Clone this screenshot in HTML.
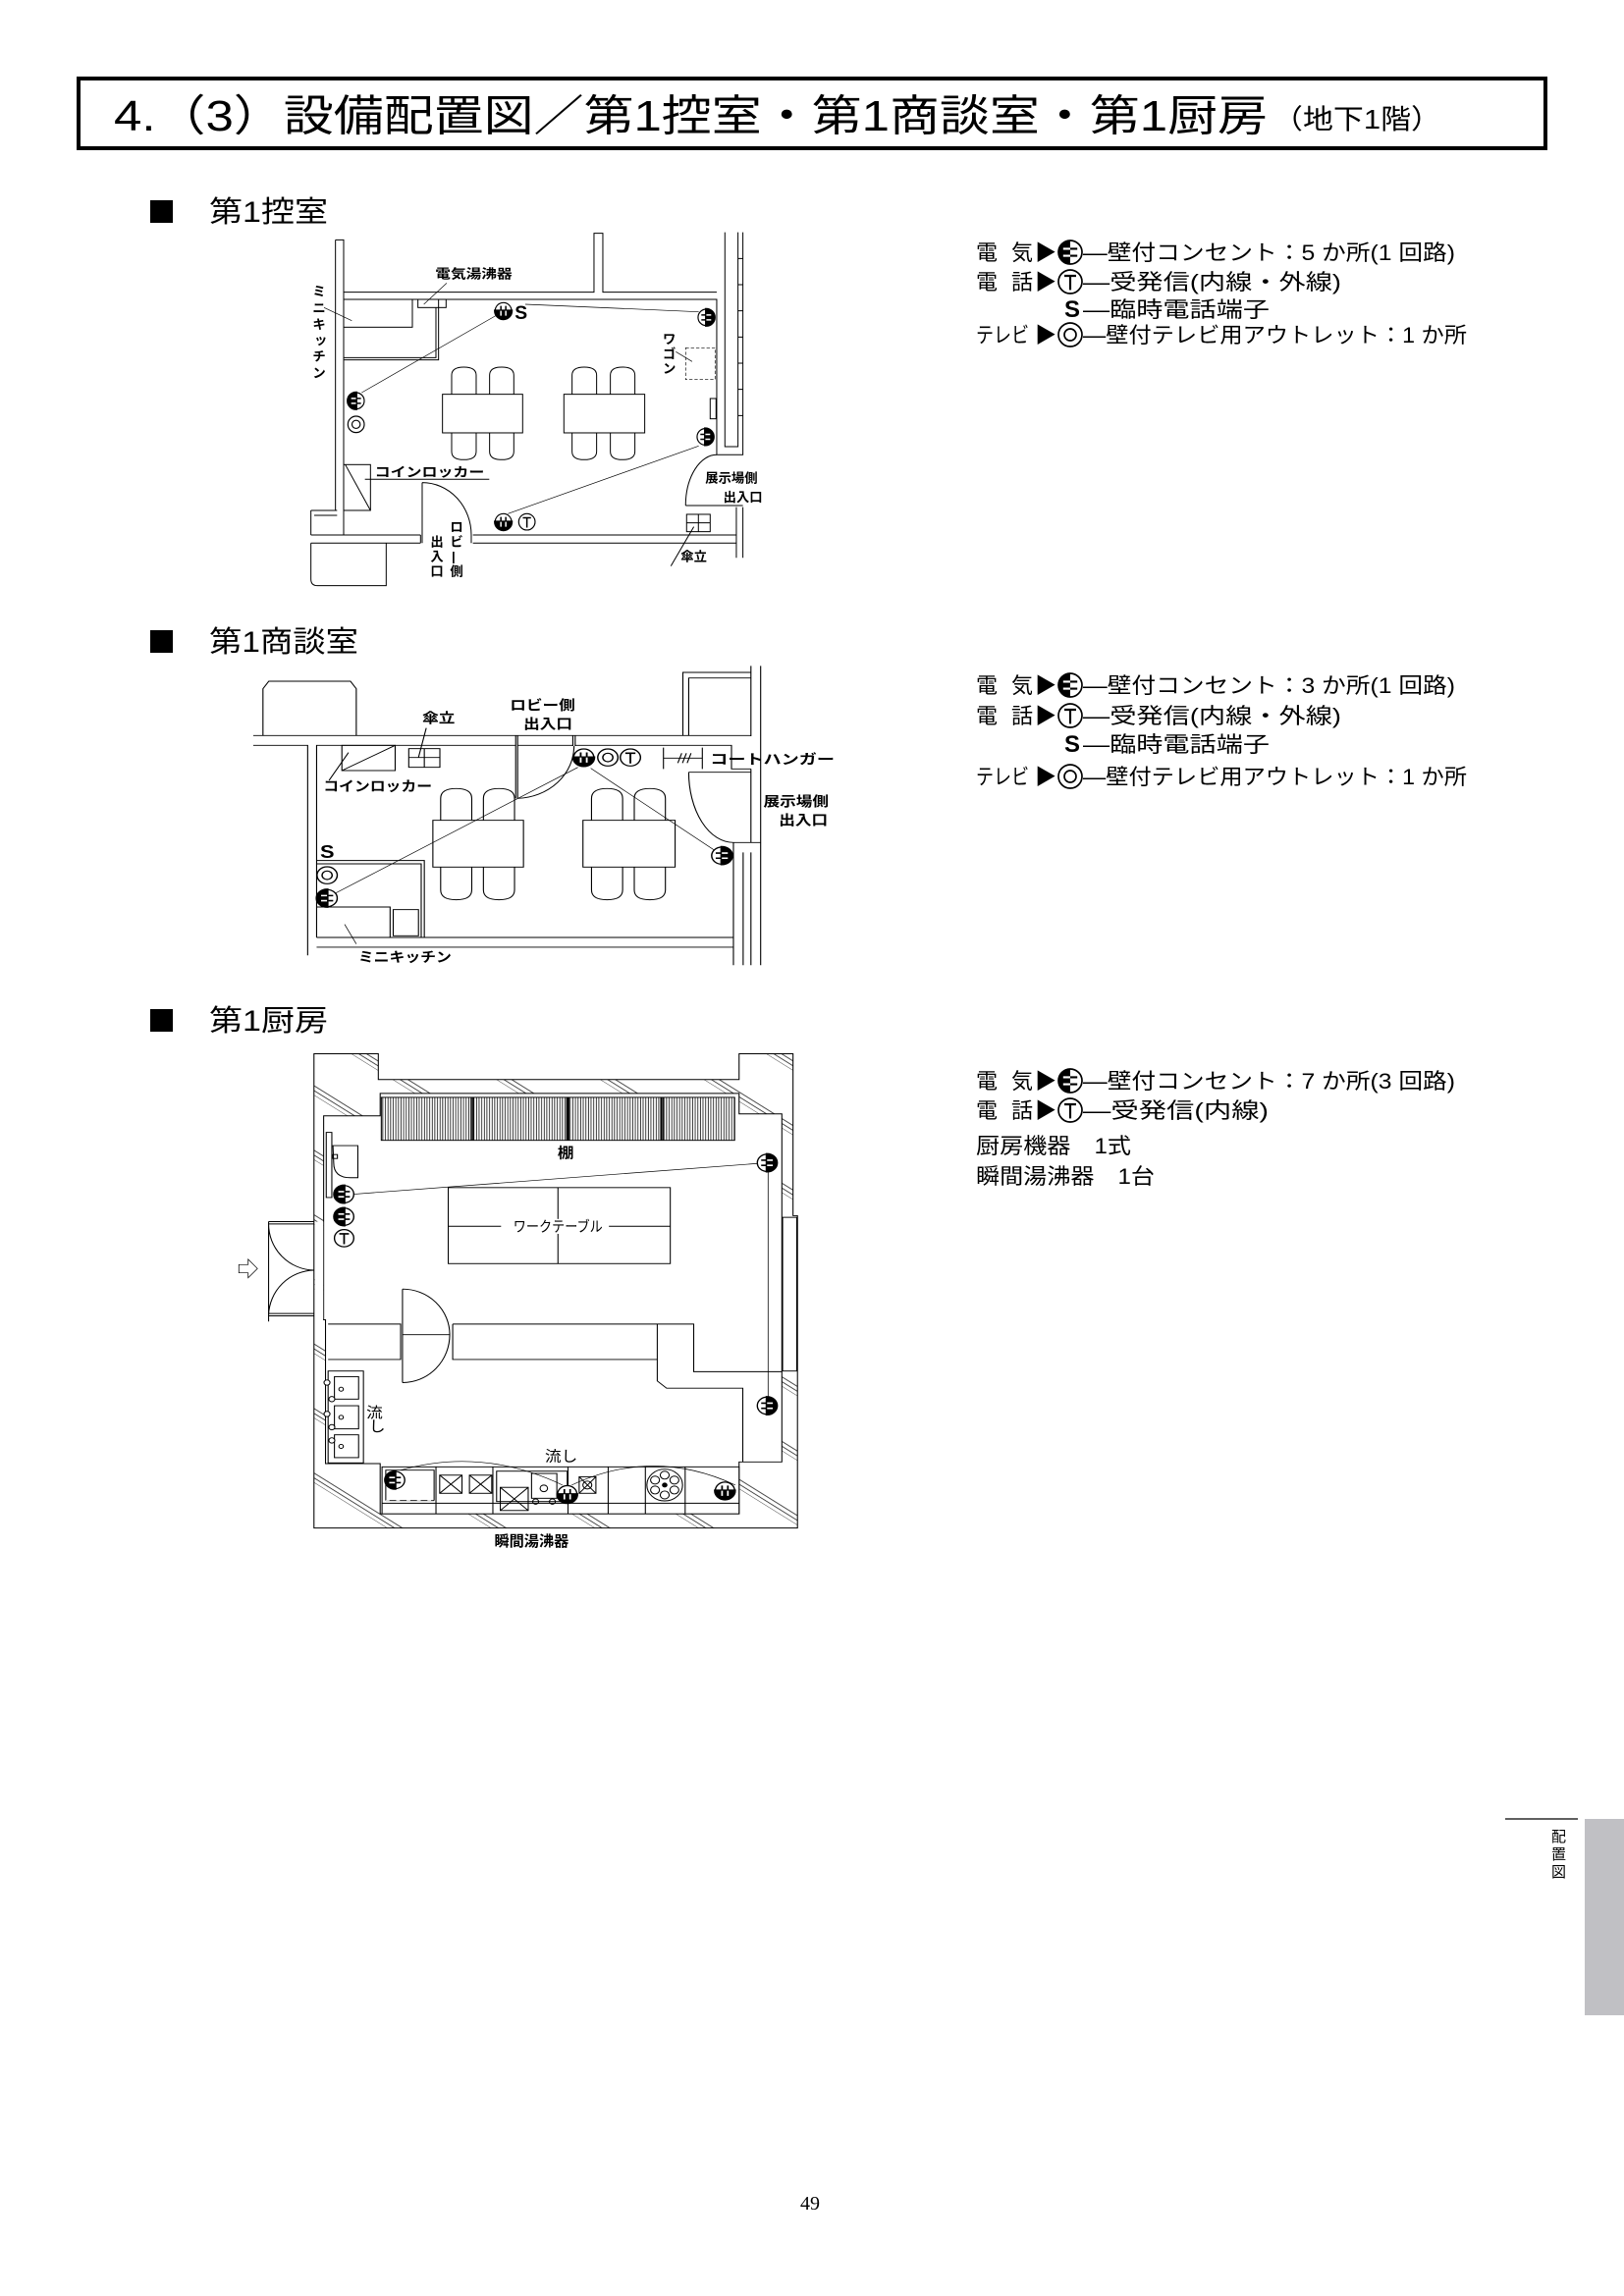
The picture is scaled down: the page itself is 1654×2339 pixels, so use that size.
<!DOCTYPE html>
<html><head><meta charset="utf-8"><style>
html,body{margin:0;padding:0;background:#fff}
svg{display:block}
text{font-family:"Liberation Sans","Noto Sans CJK JP",sans-serif;fill:#000}
</style></head><body>
<svg width="1654" height="2339" viewBox="0 0 1654 2339" xmlns="http://www.w3.org/2000/svg">
<defs>
<g id="eo"><circle r="10" fill="#fff" stroke="#000" stroke-width="1.4"/><path d="M0,-10A10,10 0 0 0 0,10Z" fill="#000"/><path d="M-6,-3H0M-6,3H0" stroke="#fff" stroke-width="1.8"/><path d="M0,-3H6M0,3H6" stroke="#000" stroke-width="1.8"/></g>
<g id="tel"><circle r="10" fill="#fff" stroke="#000" stroke-width="1.4"/><path d="M-10,0A10,10 0 0 0 10,0Z" fill="#000"/><path d="M-3,-6V0M3,-6V0" stroke="#000" stroke-width="1.8"/><path d="M-3,0V6M3,0V6" stroke="#fff" stroke-width="1.8"/></g>
<g id="tv"><circle r="10" fill="#fff" stroke="#000" stroke-width="1.4"/><circle r="5" fill="none" stroke="#000" stroke-width="1.4"/></g>
<g id="tt"><circle r="10" fill="#fff" stroke="#000" stroke-width="1.4"/><path d="M-5,-5H5M0,-5V7" stroke="#000" stroke-width="1.8"/></g>
<pattern id="hatch" patternUnits="userSpaceOnUse" width="160" height="160" patternTransform="rotate(-55)"><line x1="0" y1="0" x2="0" y2="160" stroke="#000" stroke-width="2"/><line x1="12" y1="0" x2="12" y2="160" stroke="#000" stroke-width="2"/><line x1="24" y1="0" x2="24" y2="160" stroke="#000" stroke-width="2"/></pattern>
<pattern id="vh" patternUnits="userSpaceOnUse" width="7" height="10"><line x1="2" y1="0" x2="2" y2="10" stroke="#000" stroke-width="2"/></pattern>
</defs>

<!-- Header -->
<rect x="80" y="80" width="1494" height="71" fill="none" stroke="#000" stroke-width="4"/>
<text x="116" y="133" font-size="44" textLength="1175" lengthAdjust="spacingAndGlyphs">4.（3）設備配置図／第1控室・第1商談室・第1厨房</text>
<text x="1296" y="131" font-size="28" textLength="172" lengthAdjust="spacingAndGlyphs">（地下1階）</text>

<!-- Section headings -->
<rect x="153" y="204" width="23" height="23" fill="#000"/>
<text x="213" y="226" font-size="30" textLength="121" lengthAdjust="spacingAndGlyphs">第1控室</text>
<rect x="153" y="642" width="23" height="23" fill="#000"/>
<text x="213" y="664" font-size="30" textLength="152" lengthAdjust="spacingAndGlyphs">第1商談室</text>
<rect x="153" y="1028" width="23" height="23" fill="#000"/>
<text x="213" y="1050" font-size="30" textLength="121" lengthAdjust="spacingAndGlyphs">第1厨房</text>

<!-- Legend 1 -->
<g font-size="22">
<text x="994" y="265">電</text><text x="1030" y="265">気</text><text x="1054" y="265">▶</text><use href="#eo" transform="translate(1090,257) scale(1.2)"/>
<text x="1103" y="265" textLength="379" lengthAdjust="spacingAndGlyphs">—壁付コンセント：5 か所(1 回路)</text>
<text x="994" y="295">電</text><text x="1030" y="295">話</text><text x="1054" y="295">▶</text><use href="#tt" transform="translate(1090,287) scale(1.2)"/>
<text x="1103" y="295" textLength="263" lengthAdjust="spacingAndGlyphs">—受発信(内線・外線)</text>
<text x="1084" y="323" font-weight="bold" font-size="24">S</text>
<text x="1103" y="323" textLength="190" lengthAdjust="spacingAndGlyphs">—臨時電話端子</text>
<text x="994" y="349" textLength="54" lengthAdjust="spacingAndGlyphs">テレビ</text><text x="1054" y="349">▶</text><use href="#tv" transform="translate(1090,341) scale(1.2)"/>
<text x="1103" y="349" textLength="391" lengthAdjust="spacingAndGlyphs">—壁付テレビ用アウトレット：1 か所</text>
</g>
<!-- Legend 2 -->
<g font-size="22">
<text x="994" y="706">電</text><text x="1030" y="706">気</text><text x="1054" y="706">▶</text><use href="#eo" transform="translate(1090,698) scale(1.2)"/>
<text x="1103" y="706" textLength="379" lengthAdjust="spacingAndGlyphs">—壁付コンセント：3 か所(1 回路)</text>
<text x="994" y="737">電</text><text x="1030" y="737">話</text><text x="1054" y="737">▶</text><use href="#tt" transform="translate(1090,729) scale(1.2)"/>
<text x="1103" y="737" textLength="263" lengthAdjust="spacingAndGlyphs">—受発信(内線・外線)</text>
<text x="1084" y="766" font-weight="bold" font-size="24">S</text>
<text x="1103" y="766" textLength="190" lengthAdjust="spacingAndGlyphs">—臨時電話端子</text>
<text x="994" y="799" textLength="54" lengthAdjust="spacingAndGlyphs">テレビ</text><text x="1054" y="799">▶</text><use href="#tv" transform="translate(1090,791) scale(1.2)"/>
<text x="1103" y="799" textLength="391" lengthAdjust="spacingAndGlyphs">—壁付テレビ用アウトレット：1 か所</text>
</g>
<!-- Legend 3 -->
<g font-size="22">
<text x="994" y="1109">電</text><text x="1030" y="1109">気</text><text x="1054" y="1109">▶</text><use href="#eo" transform="translate(1090,1101) scale(1.2)"/>
<text x="1103" y="1109" textLength="379" lengthAdjust="spacingAndGlyphs">—壁付コンセント：7 か所(3 回路)</text>
<text x="994" y="1139">電</text><text x="1030" y="1139">話</text><text x="1054" y="1139">▶</text><use href="#tt" transform="translate(1090,1131) scale(1.2)"/>
<text x="1103" y="1139" textLength="189" lengthAdjust="spacingAndGlyphs">—受発信(内線)</text>
<text x="994" y="1175" textLength="158" lengthAdjust="spacingAndGlyphs">厨房機器　1式</text>
<text x="994" y="1206" textLength="182" lengthAdjust="spacingAndGlyphs">瞬間湯沸器　1台</text>
</g>

<!-- PLAN 1 -->
<g transform="translate(290,225) scale(0.3333)" fill="none" stroke="#000" stroke-width="3">
<path d="M155,58H180V960M155,58V885"/>
<path d="M180,218H945V38H972V218H1320M180,240H1320V715H1400V35M1345,35V690H1385V35"/>
<path d="M1385,115H1400M1385,195H1400M1385,275H1400M1385,355H1400M1385,435H1400M1385,515H1400M1385,595H1400"/>
<rect x="180" y="240" width="210" height="85"/>
<path d="M180,425H470V240M462,265V418H180"/>
<rect x="407" y="240" width="86" height="25"/>
<path d="M425,255L495,190M120,265L205,305" stroke-width="2"/>
<rect x="1225" y="388" width="90" height="97" stroke-dasharray="10,6" stroke-width="2"/>
<path d="M1195,400L1245,430" stroke-width="2"/>
<rect x="1300" y="543" width="18" height="62"/>
<rect x="482" y="530" width="245" height="118"/><rect x="853" y="530" width="247" height="118"/>
<path d="M510,530V472Q510,447 547,447Q585,447 585,472V530M626,530V472Q626,447 663,447Q700,447 700,472V530M878,530V472Q878,447 915,447Q953,447 953,472V530M995,530V472Q995,447 1032,447Q1070,447 1070,472V530"/>
<path d="M510,648V705Q510,730 547,730Q585,730 585,705V648M626,648V705Q626,730 663,730Q700,730 700,705V648M878,648V705Q878,730 915,730Q953,730 953,705V648M995,648V705Q995,730 1032,730Q1070,730 1070,705V648"/>
<rect x="180" y="745" width="82" height="140"/><path d="M185,745L262,885M245,790H625"/>
<path d="M80,885H160M80,885V960M90,900H160M80,960H415M80,985H415M80,985V1095Q80,1115 100,1115H310V985"/>
<path d="M415,960V985M420,800V985M420,800A150,160 0 0 1 570,960M570,960V985M575,960H1380M575,985H1380M1380,875V1030M1400,875V1030M1225,870H1400M1320,715A95,155 0 0 0 1225,870"/>
<rect x="1228" y="897" width="72" height="53"/><path d="M1264,897V950M1228,923H1300M1250,935L1180,1055"/>
<path d="M648,288L235,525M735,255L1265,278M1265,688L682,895" stroke-width="2"/>
<use href="#tel" transform="translate(668,275) scale(2.5)"/>
<use href="#eo" transform="translate(1288,295) scale(2.5) rotate(180)"/>
<use href="#eo" transform="translate(218,550) scale(2.5)"/>
<use href="#tv" transform="translate(218,622) scale(2.5)"/>
<use href="#eo" transform="translate(1285,660) scale(2.5) rotate(180)"/>
<use href="#tel" transform="translate(668,920) scale(2.5)"/>
<use href="#tt" transform="translate(740,920) scale(2.5)"/>
<g stroke="none" fill="#000" font-weight="bold" font-size="40">
<text x="703" y="300" font-size="58">S</text>
<text x="460" y="175" textLength="235" lengthAdjust="spacingAndGlyphs">電気湯沸器</text>
<text x="85" y="230">ミ</text><text x="85" y="280">ニ</text><text x="85" y="330">キ</text><text x="90" y="378">ッ</text><text x="85" y="428">チ</text><text x="85" y="478">ン</text>
<text x="1155" y="375">ワ</text><text x="1155" y="420">ゴ</text><text x="1155" y="465">ン</text>
<text x="275" y="782" textLength="335" lengthAdjust="spacingAndGlyphs">コインロッカー</text>
<text x="505" y="950">ロ</text><text x="505" y="995">ビ</text><text x="510" y="1040">|</text><text x="505" y="1085">側</text>
<text x="445" y="995">出</text><text x="445" y="1040">入</text><text x="445" y="1085">口</text>
<text x="1285" y="800">展示場側</text><text x="1340" y="858">出入口</text>
<text x="1210" y="1040">傘立</text>
</g>
</g>

<!-- PLAN 2 -->
<g transform="translate(250,670) scale(0.396,0.3333)" fill="none" stroke="#000" stroke-width="2.8">
<path d="M45,238V95L60,72H270L285,95V238"/>
<path d="M20,238H1300M20,268H160V910M183,855V268H695M700,268H842M848,268H1250V340H1300"/>
<path d="M695,238V430M700,238V430M842,238V270M848,238V270M845,270A150,160 0 0 1 700,430"/>
<path d="M1125,238V45H1300M1140,238V62H1300M1300,25V240M1325,25V940M1300,340V565M1300,595V940M1280,595V940M1255,565H1325M1255,565V940"/>
<path d="M1140,350H1300M1140,350A115,215 0 0 0 1255,565"/>
<path d="M183,855H1255M183,885H1255"/>
<path d="M183,620H460V855M183,630H452V855M183,762H372V855"/><rect x="380" y="770" width="65" height="80"/>
<rect x="248" y="268" width="137" height="77"/><path d="M248,345L385,268M215,375L265,290"/>
<rect x="420" y="278" width="80" height="57"/><path d="M460,278V335M420,305H500M445,305L465,215"/>
<path d="M855,335L228,722M888,338L1208,590" stroke-width="2"/>
<path d="M1075,275V340M1175,275V340M1075,307H1175M1112,322L1122,292M1124,322L1134,292M1136,322L1146,292"/>
<path d="M285,875L255,815" stroke-width="2"/>
<rect x="482" y="497" width="233" height="143"/><rect x="868" y="497" width="237" height="143"/>
<path d="M502,497V430Q502,400 542,400Q582,400 582,430V497M612,497V430Q612,400 652,400Q692,400 692,430V497M890,497V430Q890,400 930,400Q970,400 970,430V497M1000,497V430Q1000,400 1040,400Q1080,400 1080,430V497"/>
<path d="M502,640V710Q502,740 542,740Q582,740 582,710V640M612,640V710Q612,740 652,740Q692,740 692,710V640M890,640V710Q890,740 930,740Q970,740 970,710V640M1000,640V710Q1000,740 1040,740Q1080,740 1080,710V640"/>
<use href="#tel" transform="translate(870,305) scale(2.6)"/>
<use href="#tv" transform="translate(932,305) scale(2.6)"/>
<use href="#tt" transform="translate(990,305) scale(2.6)"/>
<use href="#eo" transform="translate(1225,605) scale(2.6) rotate(180)"/>
<use href="#tv" transform="translate(210,665) scale(2.6)"/>
<use href="#eo" transform="translate(210,735) scale(2.6)"/>
<g stroke="none" fill="#000" font-weight="bold" font-size="42">
<text x="192" y="612" font-size="55">S</text>
<text x="455" y="200">傘立</text>
<text x="680" y="160">ロビー側</text><text x="715" y="218">出入口</text>
<text x="200" y="408" textLength="280" lengthAdjust="spacingAndGlyphs">コインロッカー</text>
<text x="1195" y="325" textLength="320" lengthAdjust="spacingAndGlyphs">コートハンガー</text>
<text x="1332" y="455">展示場側</text><text x="1372" y="512">出入口</text>
<text x="290" y="930" textLength="240" lengthAdjust="spacingAndGlyphs">ミニキッチン</text>
</g>
</g>

<!-- PLAN 3 -->
<g transform="translate(230,1060) scale(0.3788,0.3367)" fill="none" stroke="#000" stroke-width="2.8">
<path fill="url(#hatch)" fill-rule="evenodd" d="M237,40H410V118H1380V40H1525V530H1537V1475H237Z M263,228H415V160H1380V222H1495V1275H1380V1432H415V1280H268V845H263Z"/>
<rect x="1497" y="535" width="38" height="465" fill="#fff"/>
<rect x="239" y="548" width="23" height="295" fill="#fff" stroke="none"/>
<rect x="418" y="172" width="950" height="130" fill="url(#vh)"/>
<path d="M660,172V302M665,172V302M917,172V302M922,172V302M1170,172V302M1175,172V302" stroke-width="4"/>
<rect x="270" y="278" width="15" height="197" fill="#fff"/>
<path d="M288,318H355V415H335Q290,415 290,370Z"/><rect x="288" y="345" width="12" height="12"/>
<path d="M343,465L1430,372M1458,395V1080" stroke-width="2"/>
<rect x="598" y="445" width="597" height="230"/><path d="M893,445V675M598,562H740M1030,562H1195"/>
<path d="M115,548H237M115,555H237M115,833H237M115,826H237M115,548V850M115,555A125,140 0 0 0 237,695M237,695A125,140 0 0 0 115,830"/>
<path d="M35,678H60V662L85,690L60,718V703H35Z" stroke-width="2"/>
<path d="M275,858H470V965H275M475,752V1035M475,752A127,138 0 0 1 602,890A127,145 0 0 1 475,1035M475,890H602M610,858H1258V1002H1495M610,858V965H1160V1030L1185,1052H1390V1275M1160,858V965"/>
<rect x="275" y="1000" width="95" height="278" fill="#fff"/>
<rect x="292" y="1017" width="65" height="68"/><rect x="292" y="1105" width="65" height="70"/><rect x="292" y="1193" width="65" height="69"/>
<circle cx="310" cy="1055" r="6"/><circle cx="310" cy="1140" r="6"/><circle cx="310" cy="1228" r="6"/>
<circle cx="272" cy="1035" r="8" fill="#fff"/><circle cx="285" cy="1085" r="8" fill="#fff"/><circle cx="272" cy="1130" r="8" fill="#fff"/><circle cx="285" cy="1170" r="8" fill="#fff"/><circle cx="285" cy="1210" r="8" fill="#fff"/>
<rect x="420" y="1290" width="960" height="142" fill="#fff"/><path d="M420,1400H1380M565,1290V1432M718,1290V1432M920,1290V1432M1028,1290V1432M1128,1290V1432M1235,1290V1432"/>
<path d="M430,1392V1300H560V1392M430,1392H560" /><path d="M430,1392H560" stroke="#fff" stroke-dasharray="10,18"/>
<rect x="575" y="1315" width="60" height="55"/><path d="M575,1315L635,1370M635,1315L575,1370"/>
<rect x="655" y="1315" width="60" height="55"/><path d="M655,1315L715,1370M715,1315L655,1370"/>
<rect x="728" y="1303" width="190" height="92"/><rect x="822" y="1310" width="68" height="75"/>
<rect x="738" y="1352" width="75" height="70"/><path d="M738,1352L813,1422M813,1352L738,1422"/>
<circle cx="855" cy="1355" r="10"/><circle cx="833" cy="1395" r="8"/><circle cx="878" cy="1395" r="8"/>
<rect x="950" y="1320" width="45" height="50"/><circle cx="972" cy="1345" r="12"/><path d="M950,1320L995,1370M995,1320L950,1370"/>
<circle cx="1180" cy="1345" r="48"/><circle cx="1180" cy="1345" r="6" fill="#000"/>
<circle cx="1180" cy="1315" r="12"/><circle cx="1206" cy="1330" r="12"/><circle cx="1206" cy="1360" r="12"/><circle cx="1180" cy="1375" r="12"/><circle cx="1154" cy="1360" r="12"/><circle cx="1154" cy="1330" r="12"/>
<path d="M470,1300Q690,1230 905,1345M930,1345Q1150,1230 1370,1345" stroke-width="2"/>
<use href="#eo" transform="translate(318,465) scale(2.6)"/>
<use href="#eo" transform="translate(318,533) scale(2.6)"/>
<use href="#tt" transform="translate(318,598) scale(2.6)"/>
<use href="#eo" transform="translate(1455,370) scale(2.6) rotate(180)"/>
<use href="#eo" transform="translate(1455,1105) scale(2.6) rotate(180)"/>
<use href="#eo" transform="translate(455,1330) scale(2.6)"/>
<use href="#tel" transform="translate(918,1373) scale(2.6)"/>
<use href="#tel" transform="translate(1342,1362) scale(2.6)"/>
<g stroke="none" fill="#000" font-size="44">
<rect x="745" y="540" width="280" height="45" fill="#fff"/>
<text x="773" y="578" textLength="240" lengthAdjust="spacingAndGlyphs">ワークテーブル</text>
<text x="892" y="355" font-weight="bold">棚</text>
<text x="858" y="1272">流し</text>
<text x="378" y="1140">流</text><text x="385" y="1182">し</text>
<text x="722" y="1530" font-weight="bold" textLength="200" lengthAdjust="spacingAndGlyphs">瞬間湯沸器</text>
</g>
</g>

<!-- Side tab -->
<line x1="1533" y1="1853" x2="1607" y2="1853" stroke="#000" stroke-width="1.2"/>
<rect x="1614" y="1853" width="40" height="200" fill="#c0c0c4"/>
<g font-size="15"><text x="1580" y="1876">配</text><text x="1580" y="1894">置</text><text x="1580" y="1912">図</text></g>

<text x="815" y="2251" font-size="20" style="font-family:'Liberation Serif',serif">49</text>
</svg>
</body></html>
